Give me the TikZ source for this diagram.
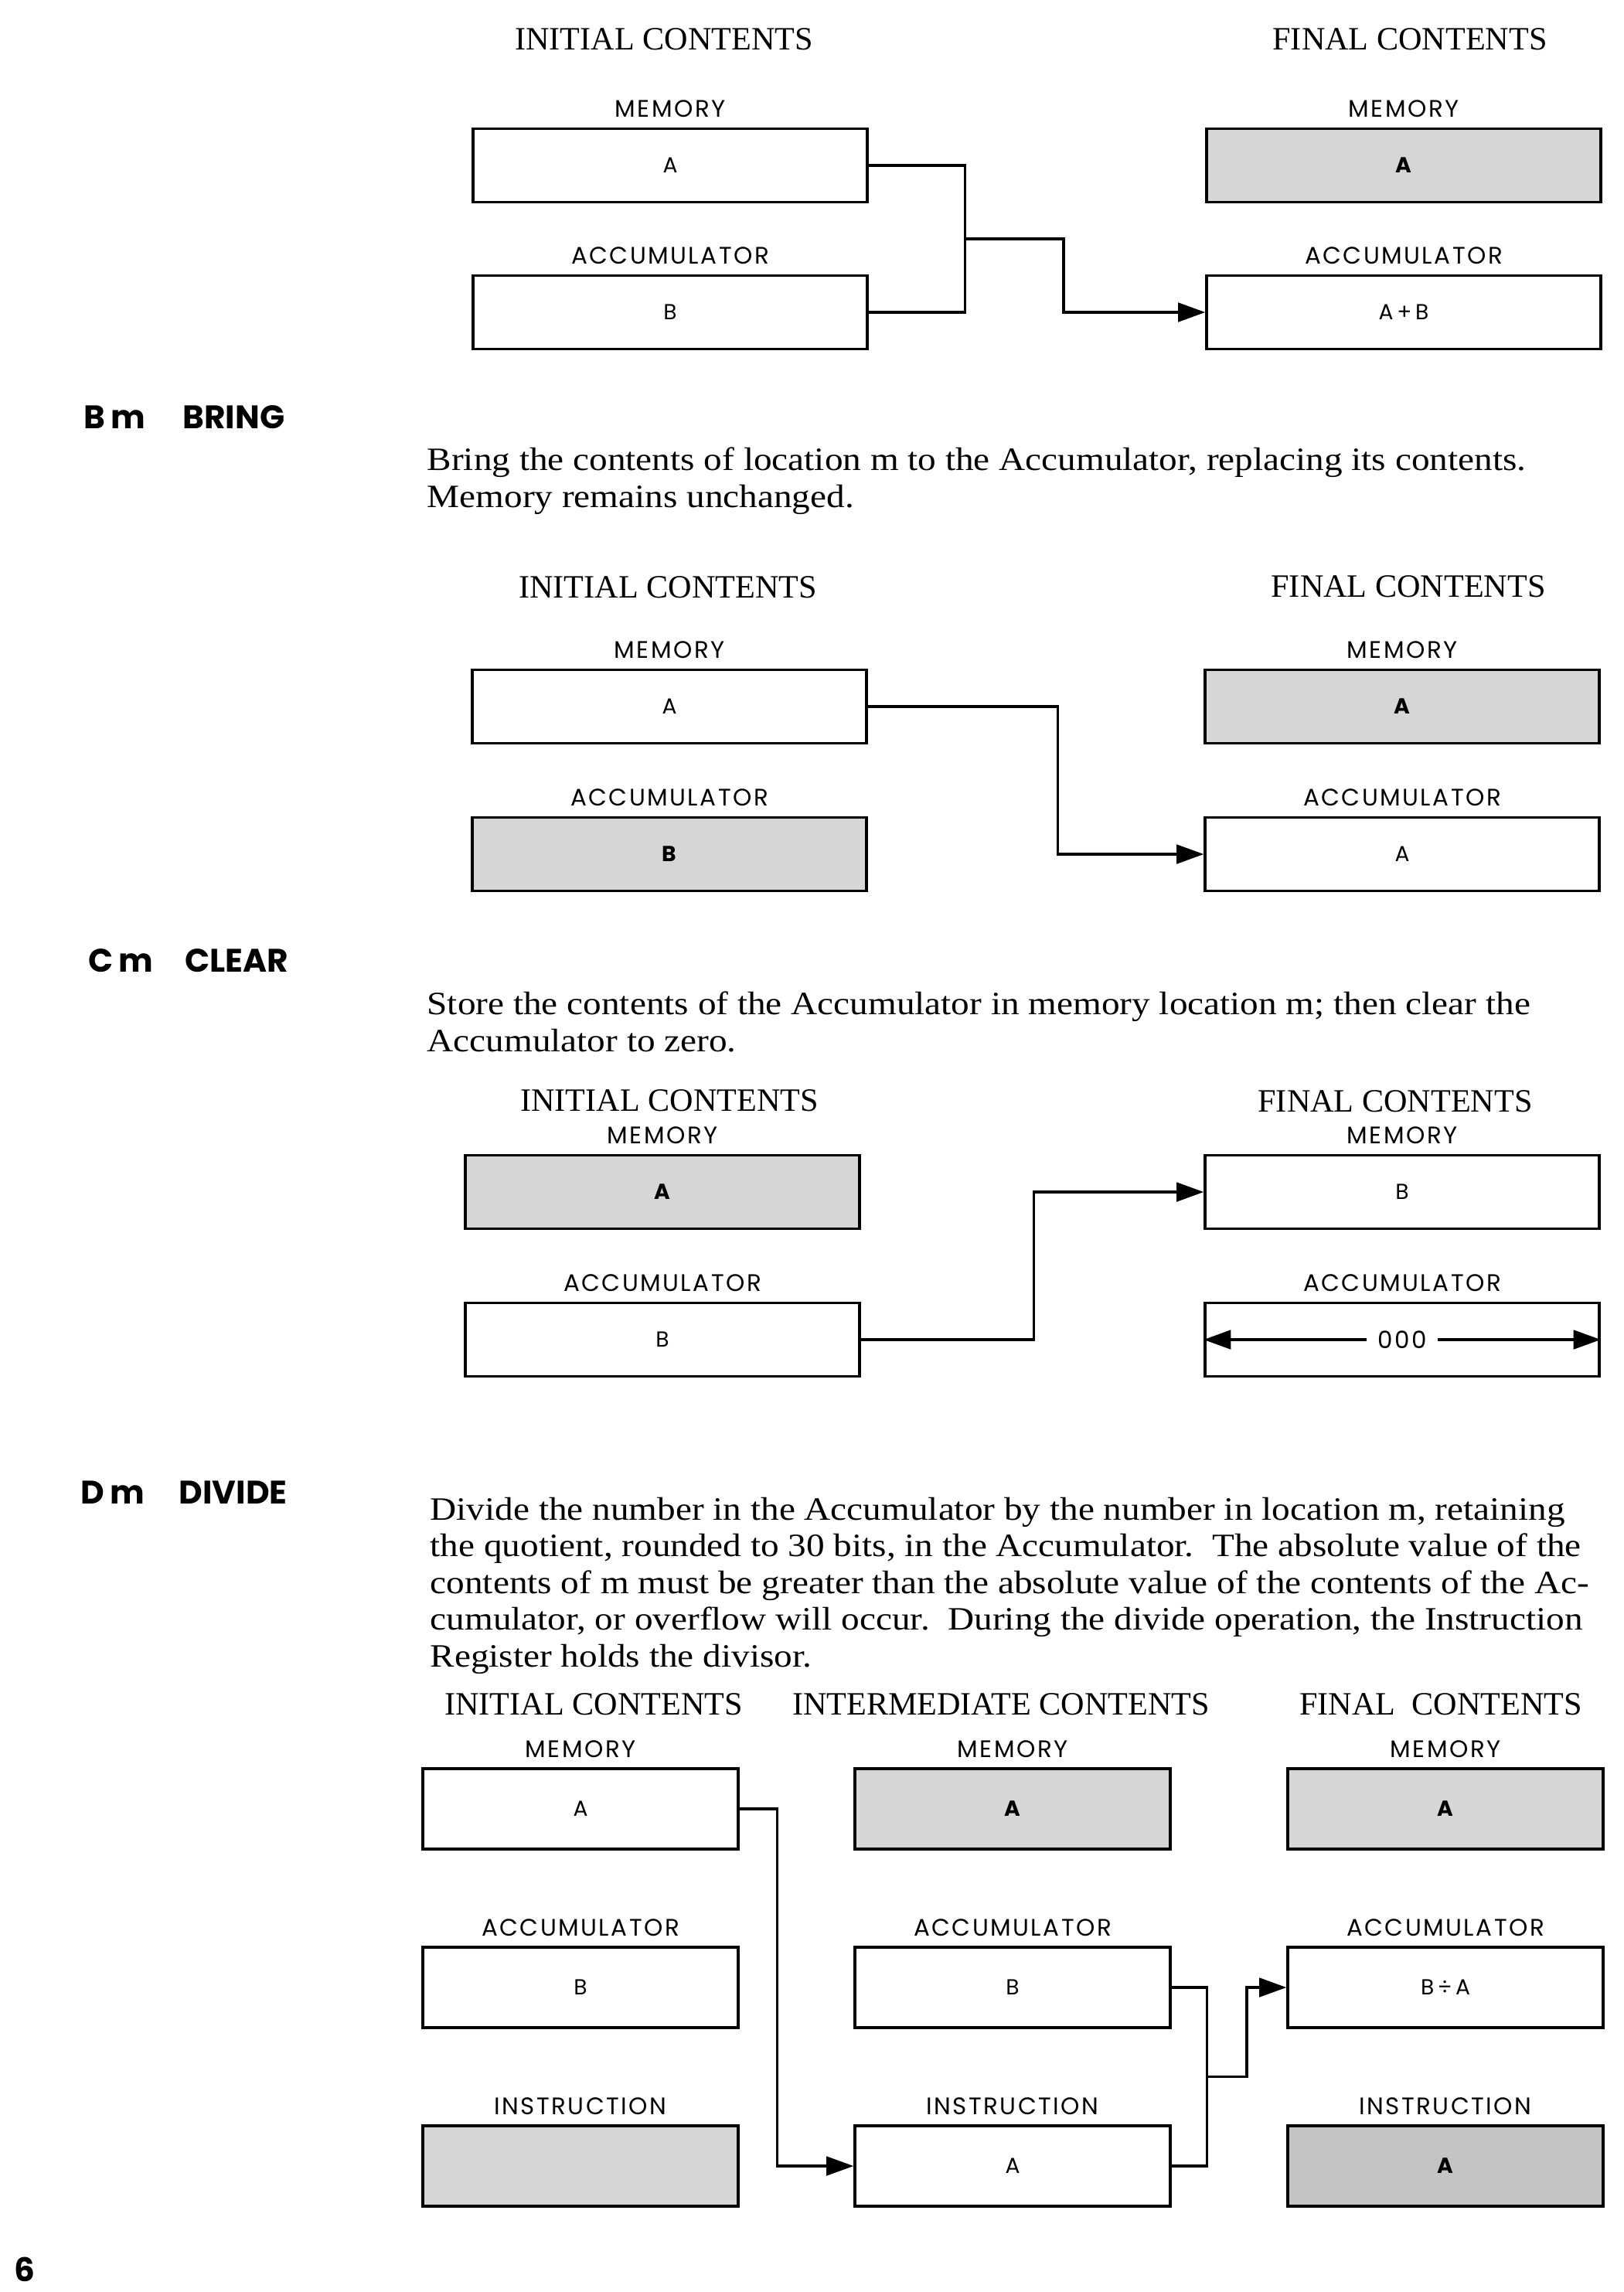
\documentclass[tikz,border=0pt]{standalone}
\usepackage{fontspec}
\setmainfont{Liberation Serif}
\newfontfamily\bodyfont{Liberation Serif}[FakeStretch=1.12]
\newfontfamily\futura{Poppins}
\newfontfamily\futuraspaced{Poppins}[LetterSpace=8]
\usetikzlibrary{positioning,arrows.meta}

\tikzset{
  reg/.style={draw, line width=1pt, minimum width=5.1cm, minimum height=0.95cm, inner sep=0pt, font=\futura\fontsize{8}{9}\selectfont},
  regsmall/.style={reg, minimum width=4.08cm, minimum height=1.04cm},
  held/.style={fill=black!16, font=\futura\bfseries\fontsize{8}{9}\selectfont},
  regname/.style={inner sep=0pt, font=\futuraspaced\fontsize{8.8}{10}\selectfont},
  colhead/.style={inner sep=0pt, font=\fontsize{12}{14}\selectfont},
  opcode/.style={anchor=west, inner sep=0pt, font=\futura\bfseries\fontsize{12}{14}\selectfont},
  descr/.style={anchor=west, align=left, inner sep=0pt, font=\bodyfont\fontsize{12}{13.5}\selectfont},
  wire/.style={line width=0.9pt},
  feed/.style={wire, -{Triangle[length=10pt,width=7pt]}},
}

\begin{document}
\begin{tikzpicture}
\useasboundingbox[fill=white] (0,0) rectangle (21,-29.65);

% add
\node[colhead] (ini1) at (8.59,-0.51) {INITIAL CONTENTS};
\node[colhead] (fin1) at (18.24,-0.51) {FINAL CONTENTS};
\node[reg] (m1) at (8.67,-2.14) {A};
\node[reg] (a1) at (8.67,-4.04) {B};
\node[reg, held] (m2) at (18.16,-2.14) {A};
\node[reg] (a2) at (18.16,-4.04) {A\,+\,B};
\node[regname, above=1.2mm of m1] (m1n) {MEMORY};
\node[regname, above=1.2mm of a1] (a1n) {ACCUMULATOR};
\node[regname, above=1.2mm of m2] (m2n) {MEMORY};
\node[regname, above=1.2mm of a2] (a2n) {ACCUMULATOR};
\coordinate (j1) at (12.47,-3.09);
\draw[wire] (m1.east) -- ++(1.25,0) |- (a1.east);
\draw[feed] (j1) -- ++(1.29,0) |- (a2.west);

% bring
\node[opcode] (opb) at (1.08,-5.40) {B\,m};
\node[opcode] (nameb) at (2.36,-5.40) {BRING};
\node[descr] (tb) at (5.52,-6.22) {Bring the contents of location m to the Accumulator, replacing its contents.\\Memory remains unchanged.};
\node[colhead] (ini2) at (8.64,-7.60) {INITIAL CONTENTS};
\node[colhead] (fin2) at (18.22,-7.59) {FINAL CONTENTS};
\node[reg] (m3) at (8.66,-9.14) {A};
\node[reg, held] (a3) at (8.66,-11.05) {B};
\node[reg, held] (m4) at (18.14,-9.14) {A};
\node[reg] (a4) at (18.14,-11.05) {A};
\node[regname, above=1.2mm of m3] (m3n) {MEMORY};
\node[regname, above=1.2mm of a3] (a3n) {ACCUMULATOR};
\node[regname, above=1.2mm of m4] (m4n) {MEMORY};
\node[regname, above=1.2mm of a4] (a4n) {ACCUMULATOR};
\draw[feed] (m3.east) -- ++(2.46,0) |- (a4.west);

% clear
\node[opcode] (opc) at (1.14,-12.43) {C\,m};
\node[opcode] (namec) at (2.39,-12.43) {CLEAR};
\node[descr] (tc) at (5.52,-13.22) {Store the contents of the Accumulator in memory location m; then clear the\\Accumulator to zero.};
\node[colhead] (ini3) at (8.66,-14.24) {INITIAL CONTENTS};
\node[colhead] (fin3) at (18.05,-14.25) {FINAL CONTENTS};
\node[reg, held] (m5) at (8.57,-15.42) {A};
\node[reg] (a5) at (8.57,-17.33) {B};
\node[reg] (m6) at (18.14,-15.42) {B};
\node[reg] (a6) at (18.14,-17.33) {};
\node[regname, inner sep=4pt] (z6) at (a6) {000};
\node[regname, above=1.2mm of m5] (m5n) {MEMORY};
\node[regname, above=1.2mm of a5] (a5n) {ACCUMULATOR};
\node[regname, above=1.2mm of m6] (m6n) {MEMORY};
\node[regname, above=1.2mm of a6] (a6n) {ACCUMULATOR};
\draw[feed] (a5.east) -- ++(2.24,0) |- (m6.west);
\draw[feed] (z6.west) -- (a6.west);
\draw[feed] (z6.east) -- (a6.east);

% divide
\node[opcode] (opd) at (1.04,-19.31) {D\,m};
\node[opcode] (named) at (2.31,-19.31) {DIVIDE};
\node[descr] (td) at (5.56,-20.51) {Divide the number in the Accumulator by the number in location m, retaining\\the quotient, rounded to 30 bits, in the Accumulator.\ \ The absolute value of the\\contents of m must be greater than the absolute value of the contents of the Ac-\\cumulator, or overflow will occur.\ \ During the divide operation, the Instruction\\Register holds the divisor.};
\node[colhead] (ini4) at (7.68,-22.05) {INITIAL CONTENTS};
\node[colhead] (mid4) at (12.95,-22.05) {INTERMEDIATE CONTENTS};
\node[colhead] (fin4) at (18.64,-22.05) {FINAL\ \ CONTENTS};
\node[regsmall] (m7) at (7.51,-23.40) {A};
\node[regsmall] (a7) at (7.51,-25.71) {B};
\node[regsmall, held] (i7) at (7.51,-28.02) {};
\node[regsmall, held] (m8) at (13.10,-23.40) {A};
\node[regsmall] (a8) at (13.10,-25.71) {B};
\node[regsmall] (i8) at (13.10,-28.02) {A};
\node[regsmall, held] (m9) at (18.70,-23.40) {A};
\node[regsmall] (a9) at (18.70,-25.71) {B\,÷\,A};
\node[regsmall, held, fill=black!23] (i9) at (18.70,-28.02) {A};
\foreach \r in {7,8,9} {
  \node[regname, above=1.2mm of m\r] (m\r n) {MEMORY};
  \node[regname, above=1.2mm of a\r] (a\r n) {ACCUMULATOR};
  \node[regname, above=1.2mm of i\r] (i\r n) {INSTRUCTION};
}
\draw[feed] (m7.east) -- ++(0.49,0) |- (i8.west);
\draw[wire] (a8.east) -- ++(0.46,0) |- (i8.east);
\coordinate (j2) at (15.60,-26.865);
\draw[feed] (j2) -- ++(0.53,0) |- (a9.west);

\node[opcode, anchor=center] (pg) at (0.32,-29.36) {6};
\end{tikzpicture}
\end{document}
